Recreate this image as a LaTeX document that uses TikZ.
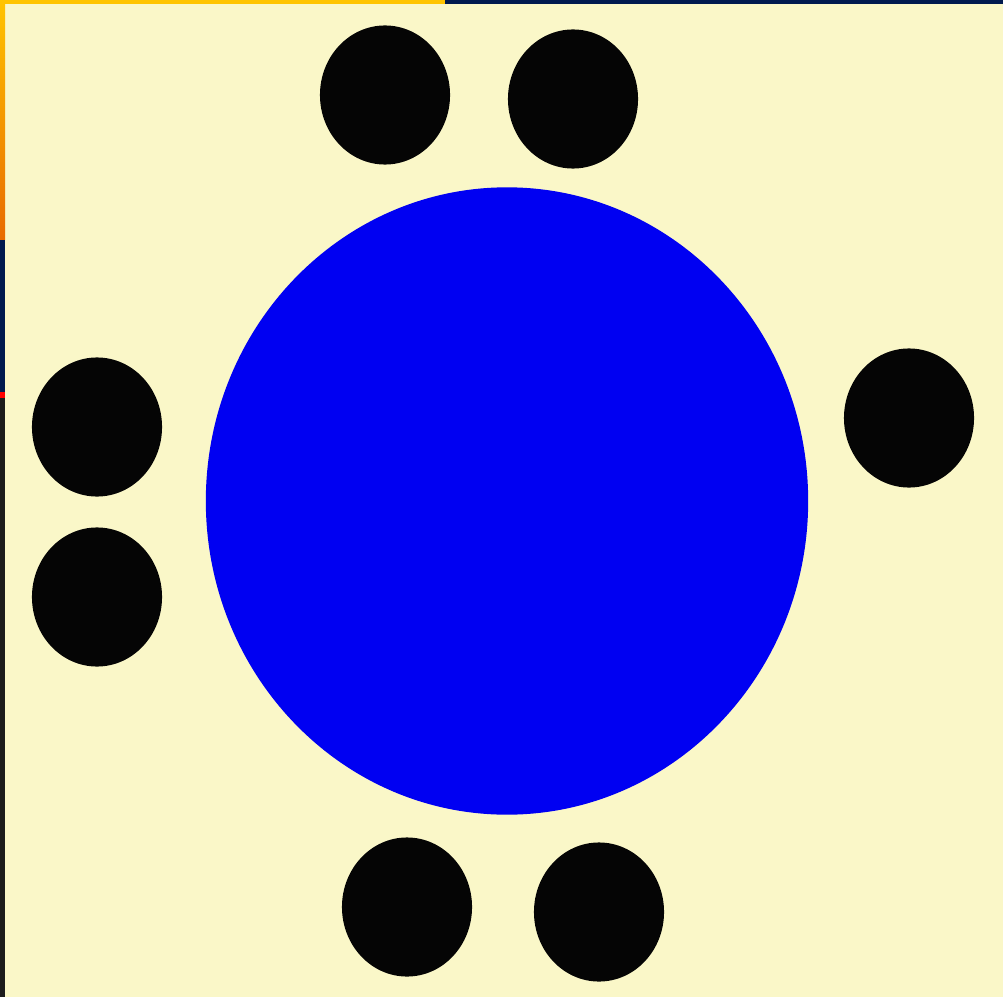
\documentclass[tikz,border=0pt]{standalone}
\usepackage{xcolor}
\usepackage{tikz}
\usetikzlibrary{shapes.geometric,positioning}
\definecolor{cPaper}{HTML}{FAF7C8}
\definecolor{cDisc}{HTML}{0000F2}
\definecolor{cDot}{HTML}{050505}
\definecolor{cNavy}{HTML}{001A4F}
\definecolor{cAmber}{HTML}{FFC400}
\definecolor{cRust}{HTML}{E86A00}
\definecolor{cEdge}{HTML}{1C1C1C}
\tikzset{
  disc/.style = {ellipse, fill=cDisc, draw=none, inner sep=0pt,
                 minimum width=6.02cm, minimum height=6.27cm},
  dot/.style  = {ellipse, fill=cDot, draw=none, inner sep=0pt,
                 minimum width=1.30cm, minimum height=1.39cm},
}
\begin{document}
\begin{tikzpicture}[x=0.01cm, y=-0.01cm]
  % paper and frame
  \fill[cPaper] (0,0) rectangle (1003,997);
  \useasboundingbox (0,0) rectangle (1003,997);
  \fill[cNavy] (0,0) rectangle (1003,4);
  \fill[cAmber] (0,0) rectangle (445,4);
  \fill[cEdge] (0,0) rectangle (5,997);
  \fill[cNavy] (0,0) rectangle (5,392);
  \shade[top color=cAmber, bottom color=cRust] (0,0) rectangle (5,240);
  \fill[red] (0,392) rectangle (5,398);

  % table and chairs
  \node[disc] (table) at (507,501) {};
  \node[dot] (topL) at (385,95) {};
  \node[dot] (topR) at (573,99) {};
  \node[dot] (leftT) at (97,427) {};
  \node[dot] (leftB) at (97,597) {};
  \node[dot] (right) at (909,418) {};
  \node[dot] (botL) at (407,907) {};
  \node[dot] (botR) at (599,912) {};
\end{tikzpicture}
\end{document}
